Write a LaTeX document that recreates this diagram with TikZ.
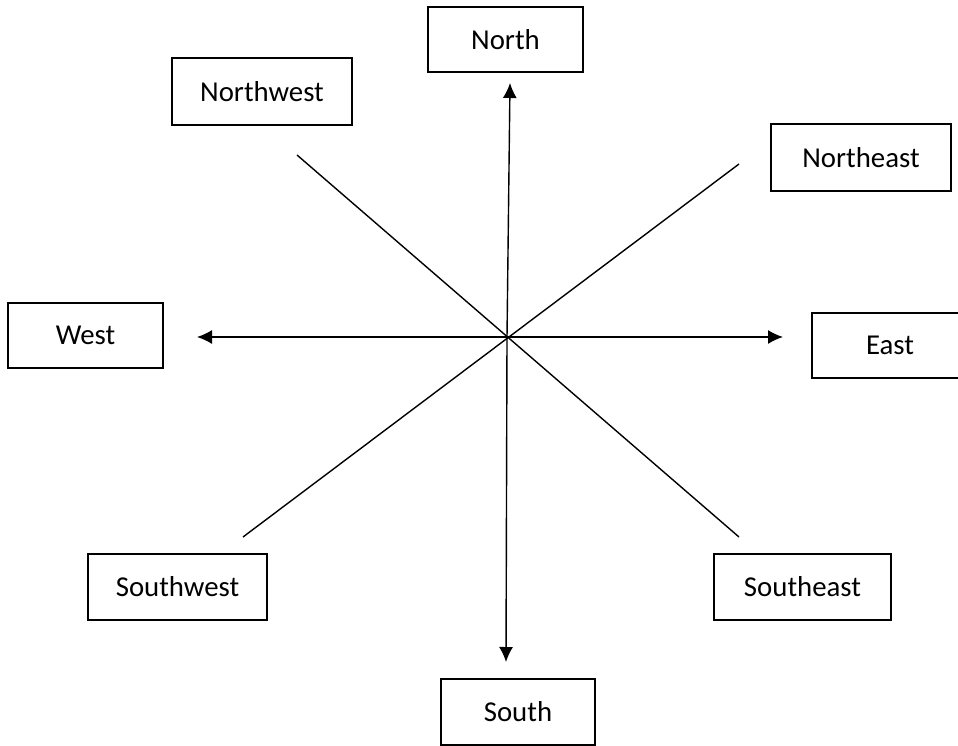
\documentclass[tikz,border=0pt]{standalone}
\usepackage{fontspec}
\setmainfont{Carlito}
\usetikzlibrary{arrows.meta}
\tikzset{
  dirbox/.style={draw, line width=1.8pt, inner sep=0pt, minimum height=65pt,
    font=\fontsize{28.8}{34}\selectfont},
  ray/.style={line width=1.4pt}
}
\begin{document}
\begin{tikzpicture}[>={Latex[length=15pt,width=14pt]}, x=1pt, y=-1pt]
\useasboundingbox (0,0) rectangle (958,746);
% boxes
\node[dirbox, minimum width=155pt] (north) at (505.5,39.5) {North};
\node[dirbox, minimum width=180pt, minimum height=67pt] (northwest) at (262,91.5) {Northwest};
\node[dirbox, minimum width=180pt, minimum height=67pt] (northeast) at (861,157.5) {Northeast};
\node[dirbox, minimum width=155pt] (west) at (85.5,335.5) {West};
\node[dirbox, minimum width=156pt] (east) at (890,345.5) {East};
\node[dirbox, minimum width=179pt, minimum height=66pt] (southwest) at (177.5,587) {Southwest};
\node[dirbox, minimum width=177pt, minimum height=66pt] (southeast) at (802.5,587) {Southeast};
\node[dirbox, minimum width=154pt, minimum height=66pt] (south) at (518,712) {South};
% ends of the rays
\coordinate (O) at (507,337);
\coordinate (ntip) at (510,83);
\coordinate (stip) at (506,662);
\coordinate (wtip) at (197,337);
\coordinate (etip) at (783,337);
\coordinate (nwend) at (297,155);
\coordinate (seend) at (739,537);
\coordinate (neend) at (739,164);
\coordinate (swend) at (243,537);
\draw[ray, ->] (O)--(ntip);
\draw[ray, ->] (O)--(stip);
\draw[ray, ->] (O)--(wtip);
\draw[ray, ->] (O)--(etip);
\draw[ray] (nwend)--(seend);
\draw[ray] (neend)--(swend);
\end{tikzpicture}
\end{document}
